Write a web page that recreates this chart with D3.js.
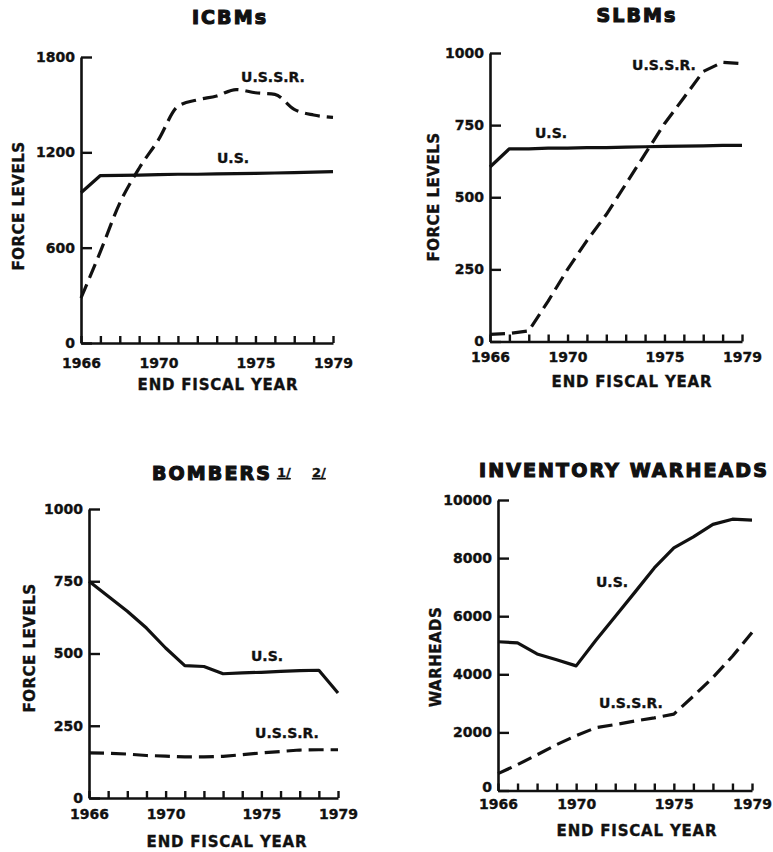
<!DOCTYPE html>
<html>
<head>
<meta charset="utf-8">
<script src="https://cdn.jsdelivr.net/npm/d3@7"></script>
<style>
  html, body { margin: 0; padding: 0; background: #fff; }
  svg { display: block; }
  text { font-family: "DejaVu Sans", sans-serif; font-weight: bold; fill: #111; stroke: #111; stroke-width: 0.35px; }
</style>
</head>
<body>
<svg id="chart" width="773" height="852"></svg>
<script>
// ---------- data ----------
const years = [1966, 1967, 1968, 1969, 1970, 1971, 1972, 1973, 1974, 1975, 1976, 1977, 1978, 1979];
const yearLabels = [1966, 1970, 1975, 1979];

const icbmUS   = [946, 1054, 1055, 1057, 1060, 1062, 1062, 1064, 1066, 1068, 1070, 1072, 1075, 1078];
const icbmUSSR = [283, 575, 880, 1100, 1280, 1490, 1530, 1555, 1595, 1575, 1565, 1470, 1435, 1420];

const slbmUS   = [605, 668, 668, 670, 670, 672, 672, 674, 675, 676, 677, 678, 680, 680];
const slbmUSSR = [25, 28, 37, 140, 250, 350, 440, 545, 650, 755, 845, 936, 968, 963];

const bomberUS   = [750, 698, 646, 588, 519, 458, 455, 430, 433, 435, 438, 441, 442, 363];
const bomberUSSR = [156, 155, 152, 147, 145, 142, 142, 144, 150, 156, 161, 166, 167, 167];

const warheadUS   = [5120, 5080, 4700, 4500, 4290, 5160, 5990, 6820, 7660, 8350, 8730, 9160, 9340, 9310];
const warheadUSSR = [580, 890, 1230, 1580, 1890, 2160, 2270, 2390, 2500, 2630, 3250, 3890, 4620, 5440];

const icbmTicks    = [0, 600, 1200, 1800];
const slbmTicks    = [0, 250, 500, 750, 1000];
const bomberTicks  = [0, 250, 500, 750, 1000];
const warheadTicks = [0, 2000, 4000, 6000, 8000, 10000];

const titles = ["ICBMs", "SLBMs", "BOMBERS", "INVENTORY WARHEADS"];
const yTitles = ["FORCE LEVELS", "FORCE LEVELS", "FORCE LEVELS", "WARHEADS"];
const xTitle = "END FISCAL YEAR";
const seriesNames = ["U.S.", "U.S.S.R."];
const footnotes = ["1/", "2/"];

// ---------- layout ----------
const panels = [
  { us: icbmUS, ussr: icbmUSSR, ticks: icbmTicks, max: 1800, smooth: true,
    xr: [81, 333], yr: [343, 57], pad: 15, zeroDy: 0,
    title: { x: 230, y: 24, anchor: "middle" },
    ytitle: { x: 19, y: 206 }, xtitle: { x: 218, y: 390 },
    usLab: { x: 233, y: 163 }, ussrLab: { x: 273, y: 82 } },
  { us: slbmUS, ussr: slbmUSSR, ticks: slbmTicks, max: 1000, smooth: false,
    xr: [490, 742], yr: [341.5, 53], pad: 11, zeroDy: 0,
    title: { x: 637, y: 22, anchor: "middle" },
    ytitle: { x: 434, y: 197 }, xtitle: { x: 632, y: 387 },
    usLab: { x: 551, y: 138 }, ussrLab: { x: 664, y: 70 } },
  { us: bomberUS, ussr: bomberUSSR, ticks: bomberTicks, max: 1000, smooth: false,
    xr: [89, 338], yr: [798, 509], pad: 11, zeroDy: 0,
    title: { x: 152, y: 480, anchor: "start" },
    ytitle: { x: 30, y: 648 }, xtitle: { x: 227, y: 847 },
    usLab: { x: 267, y: 661 }, ussrLab: { x: 287, y: 738 } },
  { us: warheadUS, ussr: warheadUSSR, ticks: warheadTicks, max: 10000, smooth: false,
    xr: [498, 752], yr: [790.5, 500], pad: 9, zeroDy: -3,
    title: { x: 624, y: 477, anchor: "middle" },
    ytitle: { x: 436, y: 657 }, xtitle: { x: 637, y: 836 },
    usLab: { x: 612, y: 587 }, ussrLab: { x: 631, y: 708 } }
];

const svg = d3.select("#chart");
svg.append("rect").attr("width", 773).attr("height", 852).attr("fill", "#fff");

panels.forEach((p, i) => {
  const g = svg.append("g");
  const x = d3.scaleLinear().domain([1966, 1979]).range(p.xr);
  const y = d3.scaleLinear().domain([0, p.max]).range(p.yr);

  // y axis
  const ya = g.append("g").attr("transform", `translate(${p.xr[0]},0)`)
    .call(d3.axisLeft(y).tickValues(p.ticks).tickSizeInner(-11).tickSizeOuter(0).tickPadding(6)
      .tickFormat(d3.format("d")));
  // x axis
  const xa = g.append("g").attr("transform", `translate(0,${p.yr[0]})`)
    .call(d3.axisBottom(x).tickValues(years).tickSizeInner(-7).tickSizeOuter(0).tickPadding(p.pad)
      .tickFormat(d => yearLabels.includes(d) ? String(d) : ""));

  [ya, xa].forEach(a => {
    a.attr("font-family", null).attr("font-size", null);
    a.selectAll("path.domain").attr("stroke", "#111").attr("stroke-width", 2.6);
    a.selectAll(".tick line").attr("stroke", "#111").attr("stroke-width", 2.4);
    a.selectAll(".tick text").style("font-size", "14px").attr("fill", "#111");
  });
  ya.selectAll(".tick").filter(d => d === 0).select("text")
    .attr("transform", `translate(0,${p.zeroDy})`);

  const lineLin = d3.line().x((d, j) => x(years[j])).y(d => y(d));
  const lineSm = d3.line().x((d, j) => x(years[j])).y(d => y(d)).curve(d3.curveMonotoneX);

  g.append("path").datum(p.us).attr("d", lineLin)
    .attr("fill", "none").attr("stroke", "#111").attr("stroke-width", 3.2)
    .attr("stroke-linejoin", "round");
  g.append("path").datum(p.ussr).attr("d", p.smooth ? lineSm : lineLin)
    .attr("fill", "none").attr("stroke", "#111").attr("stroke-width", 3.2)
    .attr("stroke-dasharray", "15,7").attr("stroke-linejoin", "round");

  // titles
  g.append("text").attr("x", p.title.x).attr("y", p.title.y)
    .attr("text-anchor", p.title.anchor)
    .style("font-size", "19px").style("letter-spacing", "2.1px")
    .style("stroke-width", "1.2px")
    .text(titles[i]);

  if (i === 2) {
    g.append("text").attr("x", 277).attr("y", 477).style("font-size", "13px")
      .style("text-decoration", "underline").text(footnotes[0]);
    g.append("text").attr("x", 312).attr("y", 477).style("font-size", "13px")
      .style("text-decoration", "underline").text(footnotes[1]);
  }

  g.append("text")
    .attr("transform", `translate(${p.ytitle.x},${p.ytitle.y}) rotate(-90)`)
    .attr("text-anchor", "middle").attr("dy", "0.36em")
    .style("font-size", "15px").style("letter-spacing", "0.5px").text(yTitles[i]);

  g.append("text").attr("x", p.xtitle.x).attr("y", p.xtitle.y)
    .attr("text-anchor", "middle").style("font-size", "15px").style("letter-spacing", "0.8px")
    .text(xTitle);

  g.append("text").attr("x", p.usLab.x).attr("y", p.usLab.y)
    .attr("text-anchor", "middle").style("font-size", "14px").text(seriesNames[0]);
  g.append("text").attr("x", p.ussrLab.x).attr("y", p.ussrLab.y)
    .attr("text-anchor", "middle").style("font-size", "14px").text(seriesNames[1]);
});
</script>
</body>
</html>
